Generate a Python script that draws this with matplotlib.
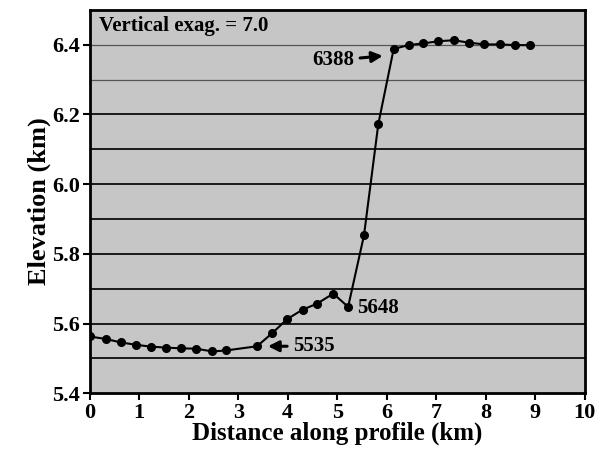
import numpy as np
import matplotlib.pyplot as plt

# distance along profile (km) and elevation (km)
distance = [0.00, 0.32, 0.63, 0.94, 1.23, 1.55, 1.85, 2.15, 2.48, 2.76,
            3.38, 3.69, 3.99, 4.30, 4.59, 4.92, 5.22, 5.54, 5.83, 6.14,
            6.44, 6.74, 7.04, 7.35, 7.66, 7.97, 8.28, 8.59, 8.89]
elevation = [5.563, 5.556, 5.546, 5.539, 5.534, 5.531, 5.529, 5.528, 5.520, 5.523,
             5.535, 5.573, 5.613, 5.640, 5.657, 5.686, 5.648, 5.853, 6.173, 6.388,
             6.399, 6.404, 6.410, 6.413, 6.406, 6.401, 6.401, 6.399, 6.399]

x_ticks = list(range(0, 11))
y_ticks = [5.4, 5.6, 5.8, 6.0, 6.2, 6.4]
grid_levels = [5.5, 5.6, 5.7, 5.8, 5.9, 6.0, 6.1, 6.2, 6.3, 6.4]

plt.rcParams['font.family'] = ['Liberation Serif', 'DejaVu Serif']
plt.rcParams['font.weight'] = 'bold'


def main():

    fig = plt.figure(figsize=(6.06, 4.5), dpi=100)
    ax = fig.add_axes([0.148, 0.126, 0.817, 0.852])

    ax.set_facecolor('#c6c6c6')
    ax.set_xlim(0, 10)
    ax.set_ylim(5.4, 6.5)

    # horizontal grid, the upper two lines are lighter in the original
    for lev in grid_levels:
        if lev >= 6.3:
            ax.axhline(lev, color='#555555', lw=0.9, zorder=1)
        else:
            ax.axhline(lev, color='#1a1a1a', lw=1.4, zorder=1)

    ax.plot(distance, elevation, '-o', color='k', lw=1.5, ms=5.5, zorder=3)

    ax.set_xticks(x_ticks)
    ax.set_yticks(y_ticks)
    ax.set_yticklabels(['%.1f' % v for v in y_ticks])
    ax.tick_params(axis='both', labelsize=16, width=1.5, length=5, direction='out', pad=2)

    for side in ax.spines:
        ax.spines[side].set_linewidth(2)

    ax.set_xlabel('Distance along profile (km)', fontsize=18, fontweight='bold', labelpad=-1)
    ax.set_ylabel('Elevation (km)', fontsize=19, fontweight='bold', labelpad=1)

    ax.text(0.18, 6.455, 'Vertical exag. = 7.0', fontsize=15, fontweight='bold',
            va='center', ha='left')

    arrow = dict(arrowstyle='-|>', lw=2.2, color='k', mutation_scale=16, shrinkA=2, shrinkB=0)
    ax.annotate('6388', xy=(distance[19] - 0.22, elevation[19] - 0.02),
                xytext=(5.35, 6.355), fontsize=15, fontweight='bold',
                ha='right', va='center', arrowprops=arrow)
    ax.annotate('5535', xy=(distance[10] + 0.22, elevation[10]),
                xytext=(4.1, 5.535), fontsize=15, fontweight='bold',
                ha='left', va='center', arrowprops=arrow)
    ax.text(5.4, 5.646, '5648', fontsize=15, fontweight='bold', ha='left', va='center')

    fig.savefig('out.png', dpi=100)


if __name__ == '__main__':
    main()
